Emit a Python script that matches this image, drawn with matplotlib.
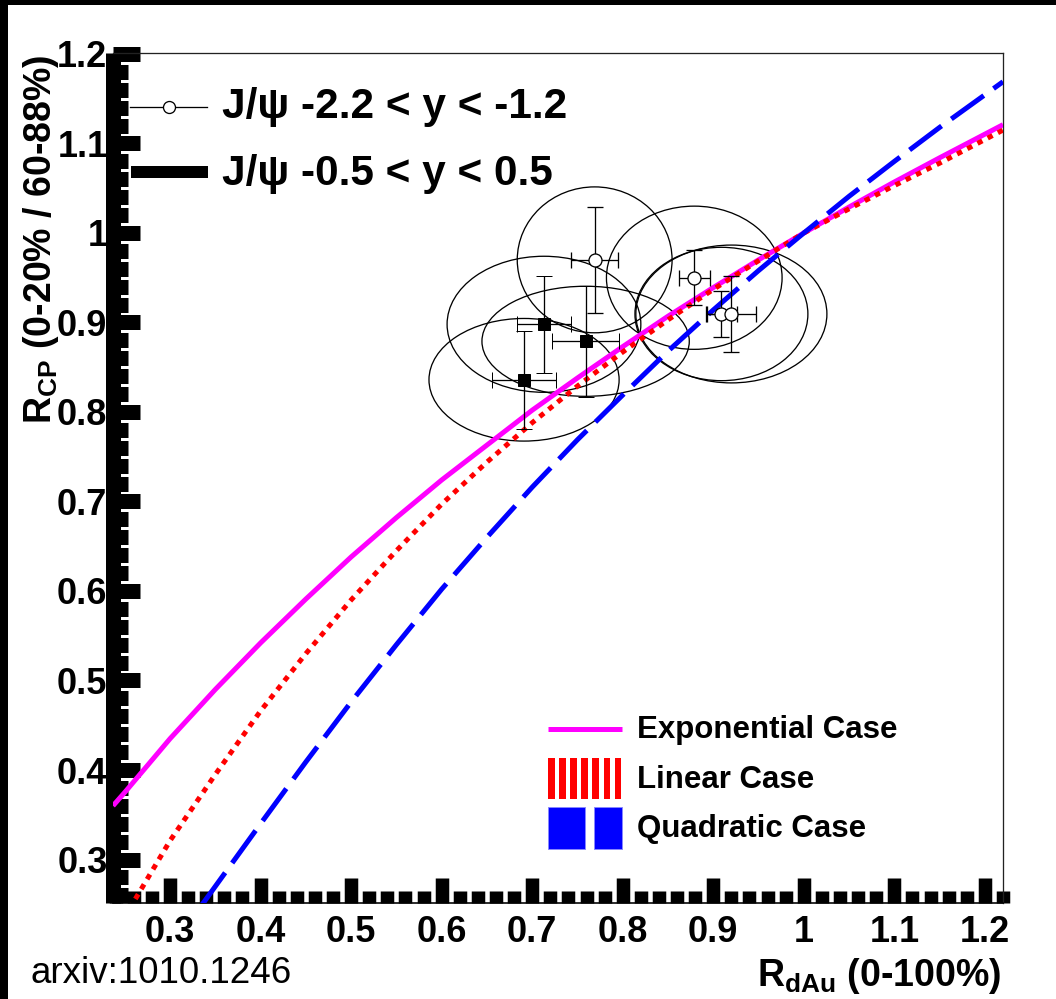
import matplotlib
matplotlib.use('Agg')
import matplotlib.pyplot as plt
from matplotlib.patches import Ellipse, Rectangle
from matplotlib.lines import Line2D
import numpy as np

plt.rcParams['font.family'] = ['Liberation Sans', 'DejaVu Sans']
plt.rcParams['mathtext.fontset'] = 'custom'
plt.rcParams['mathtext.rm'] = 'Liberation Sans'
plt.rcParams['mathtext.bf'] = 'Liberation Sans:bold'
plt.rcParams['mathtext.it'] = 'Liberation Sans:italic'

# ---------------- data ----------------
# J/psi -2.2 < y < -1.2 (open circles)
fwd_x = [0.769, 0.879, 0.909, 0.920]
fwd_y = [0.970, 0.950, 0.9095, 0.9095]
fwd_xerr = [0.026, 0.017, 0.017, 0.027]
fwd_yerr = [0.059, 0.031, 0.026, 0.043]
fwd_ell_w = [0.171, 0.194, 0.191, 0.211]
fwd_ell_h = [0.163, 0.160, 0.149, 0.154]

# J/psi -0.5 < y < 0.5 (filled squares)
mid_x = [0.713, 0.759, 0.691]
mid_y = [0.898, 0.879, 0.836]
mid_xerr = [0.030, 0.037, 0.035]
mid_yerr = [0.054, 0.062, 0.055]
mid_ell_w = [0.214, 0.229, 0.210]
mid_ell_h = [0.152, 0.123, 0.137]

# model curves
exp_x = [0.237, 0.25, 0.30, 0.35, 0.40, 0.45, 0.50, 0.55, 0.60, 0.65, 0.70, 0.75,
         0.80, 0.85, 0.90, 0.95, 1.00, 1.05, 1.10, 1.15, 1.22]
exp_y = [0.360, 0.375, 0.435, 0.490, 0.542, 0.591, 0.638, 0.682, 0.724, 0.763, 0.802, 0.838,
         0.873, 0.907, 0.939, 0.970, 1.000, 1.029, 1.057, 1.084, 1.121]

lin_x = [0.255, 0.26, 0.28, 0.30, 0.35, 0.40, 0.45, 0.50, 0.55, 0.60, 0.65, 0.70, 0.75,
         0.80, 0.85, 0.90, 0.95, 1.00, 1.05, 1.10, 1.15, 1.22]
lin_y = [0.245, 0.253, 0.287, 0.321, 0.395, 0.466, 0.530, 0.590, 0.645, 0.697, 0.744, 0.788,
         0.829, 0.867, 0.903, 0.937, 0.969, 1.000, 1.027, 1.053, 1.078, 1.115]

quad_x = [0.335, 0.35, 0.40, 0.45, 0.50, 0.55, 0.60, 0.65, 0.70, 0.75, 0.80, 0.85,
          0.90, 0.95, 1.00, 1.05, 1.10, 1.15, 1.22]
quad_y = [0.249, 0.270, 0.340, 0.409, 0.476, 0.540, 0.602, 0.660, 0.716, 0.769, 0.819, 0.868,
          0.914, 0.958, 1.000, 1.041, 1.080, 1.118, 1.169]

x_major = [0.3, 0.4, 0.5, 0.6, 0.7, 0.8, 0.9, 1.0, 1.1, 1.2]
x_labels = ['0.3', '0.4', '0.5', '0.6', '0.7', '0.8', '0.9', '1', '1.1', '1.2']
y_major = [0.3, 0.4, 0.5, 0.6, 0.7, 0.8, 0.9, 1.0, 1.1, 1.2]
y_labels = ['0.3', '0.4', '0.5', '0.6', '0.7', '0.8', '0.9', '1', '1.1', '1.2']

legend1_labels = ['J/\u03c8 -2.2 < y < -1.2', 'J/\u03c8 -0.5 < y < 0.5']
legend2_labels = ['Exponential Case', 'Linear Case', 'Quadratic Case']

# ---------------- figure ----------------
W, H = 1056, 999
fig = plt.figure(figsize=(W / 100, H / 100), dpi=100)
fig.patch.set_facecolor('white')

def fx(p):
    return p / W

def fy(p):
    return 1 - p / H

PT = 0.72  # points per pixel at dpi 100

ax = fig.add_axes([fx(113), fy(903), (1003 - 113) / W, (903 - 53) / H])
ax.set_xlim(0.237, 1.219)
ax.set_ylim(0.2514, 1.2011)

for s in ['top', 'right']:
    ax.spines[s].set_linewidth(1.3 * PT)
    ax.spines[s].set_color('#222222')
ax.spines['bottom'].set_linewidth(1.6 * PT)
ax.spines['left'].set_linewidth(15 * PT)
ax.spines['left'].set_capstyle('butt')

ax.set_xticks(x_major)
ax.set_xticklabels(x_labels, fontsize=26, fontweight='bold')
ax.set_xticks(np.arange(0.24, 1.221, 0.02), minor=True)
ax.set_yticks(y_major)
ax.set_yticklabels(y_labels, fontsize=26, fontweight='bold')
ax.set_yticks(np.arange(0.26, 1.2, 0.02), minor=True)

ax.tick_params(axis='x', which='major', direction='in', length=25 * PT, width=13.5 * PT,
               pad=9, top=False, color='black')
ax.tick_params(axis='x', which='minor', direction='in', length=12 * PT, width=13.5 * PT,
               top=False, color='black')
ax.tick_params(axis='y', which='major', direction='in', length=27 * PT, width=15 * PT,
               pad=4, right=False, color='black')
ax.tick_params(axis='y', which='minor', direction='in', length=15 * PT, width=15 * PT,
               right=False, color='black')

# ellipses
for x, y, w, h in zip(fwd_x + mid_x, fwd_y + mid_y, fwd_ell_w + mid_ell_w, fwd_ell_h + mid_ell_h):
    ax.add_patch(Ellipse((x, y), w, h, facecolor='none', edgecolor='black', lw=1.3 * PT, zorder=2))

# curves
ax.plot(exp_x, exp_y, color='#ff00ff', lw=5 * PT, solid_capstyle='butt', zorder=3)
ax.plot(lin_x, lin_y, color='#ff0000', lw=5 * PT, linestyle=(0, (1.1, 1.2)),
        dash_capstyle='butt', zorder=3)
ax.plot(quad_x, quad_y, color='#0000ff', lw=5 * PT, linestyle=(0, (8, 2.4)),
        dash_capstyle='butt', zorder=3)

# data points
ax.errorbar(fwd_x, fwd_y, xerr=fwd_xerr, yerr=fwd_yerr, fmt='o', mfc='white', mec='black',
            ms=13 * PT, mew=1.3 * PT, ecolor='black', elinewidth=1.3 * PT, capsize=8 * PT,
            capthick=1.3 * PT, zorder=4)
ax.errorbar(mid_x, mid_y, xerr=mid_xerr, yerr=mid_yerr, fmt='s', mfc='black', mec='black',
            ms=12 * PT, mew=1.0 * PT, ecolor='black', elinewidth=1.3 * PT, capsize=8 * PT,
            capthick=1.3 * PT, zorder=4)

# ---------------- legend 1 (top-left) ----------------
fig.add_artist(Line2D([fx(130), fx(207)], [fy(107), fy(107)], color='black', lw=1.3 * PT,
                      transform=fig.transFigure))
fig.add_artist(Line2D([fx(169)], [fy(107)], marker='o', ms=12 * PT, mfc='white', mec='black',
                      mew=1.3 * PT, transform=fig.transFigure))
fig.add_artist(Line2D([fx(131), fx(208)], [fy(172), fy(172)], color='black', lw=12 * PT,
                      solid_capstyle='butt', transform=fig.transFigure))
fig.text(fx(222), fy(118), legend1_labels[0], fontsize=30.5, fontweight='bold', va='baseline')
fig.text(fx(222), fy(185), legend1_labels[1], fontsize=30.5, fontweight='bold', va='baseline')

# ---------------- legend 2 (bottom-right) ----------------
fig.add_artist(Line2D([fx(548), fx(622)], [fy(729), fy(729)], color='#ff00ff', lw=5 * PT,
                      solid_capstyle='butt', transform=fig.transFigure))
for i in range(7):
    fig.add_artist(Rectangle((fx(548 + i * 11.1), fy(799)), 6.7 / W, 41 / H,
                             facecolor='#ff0000', edgecolor='none', transform=fig.transFigure))
fig.add_artist(Rectangle((fx(548), fy(849)), 37 / W, 42 / H, facecolor='#0000ff',
                         edgecolor='#8888ff', lw=0.7, transform=fig.transFigure))
fig.add_artist(Rectangle((fx(594), fy(849)), 28 / W, 42 / H, facecolor='#0000ff',
                         edgecolor='#8888ff', lw=0.7, transform=fig.transFigure))
for lab, yb in zip(legend2_labels, [738, 788, 837]):
    fig.text(fx(637), fy(yb), lab, fontsize=22.5, fontweight='bold', va='baseline')

# ---------------- axis titles ----------------
fig.text(fx(1001), fy(986), r'$\mathbf{R}_{\mathbf{dAu}}$ (0-100%)', fontsize=27,
         fontweight='bold', ha='right', va='baseline')
fig.text(fx(41), fy(55), r'$\mathbf{R}_{\mathbf{CP}}$ (0-20% / 60-88%)', fontsize=27,
         fontweight='bold', ha='center', va='top', rotation=90)

fig.text(fx(30), fy(983), 'arxiv:1010.1246', fontsize=26.5, va='baseline')

# ---------------- black frame ----------------
fig.add_artist(Rectangle((0, fy(5)), 1, 5 / H, facecolor='black', edgecolor='none',
                         transform=fig.transFigure))
fig.add_artist(Rectangle((0, 0), 8 / W, 1, facecolor='black', edgecolor='none',
                         transform=fig.transFigure))

fig.savefig('out.png', dpi=100)
